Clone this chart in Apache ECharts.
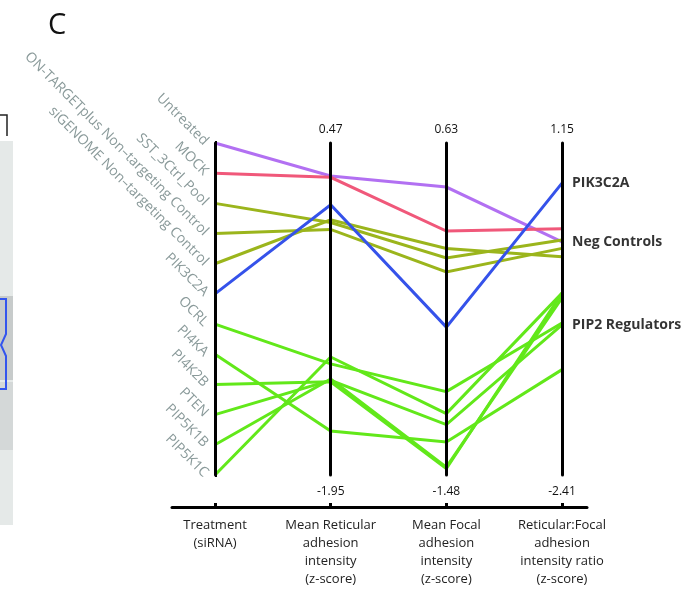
<!DOCTYPE html>
<html>
<head>
<meta charset="utf-8">
<script src="https://cdn.jsdelivr.net/npm/echarts@6/dist/echarts.min.js"></script>
<style>
  html, body { margin: 0; padding: 0; background: #fff; }
  #chart { width: 685px; height: 591px; }
</style>
</head>
<body>
<div id="chart"></div>
<script>
// Treatments (siRNA) on the first axis, top to bottom
const treatments = [
  'Untreated', 'MOCK', 'SST_3Ctrl_Pool',
  'ON-TARGETplus Non\u2013targeting Control', 'siGENOME Non\u2013targeting Control',
  'PIK3C2A', 'OCRL', 'PI4KA', 'PI4K2B', 'PTEN', 'PIP5K1B', 'PIP5K1C'
];
// Group of each treatment (sets the line colour)
const groups = [
  'untreated', 'mock', 'neg', 'neg', 'neg',
  'pik3c2a', 'pip2', 'pip2', 'pip2', 'pip2', 'pip2', 'pip2'
];
// z-scores per measurement
const reticular = [0.23, 0.22, -0.11, -0.16, -0.09, 0.02, -1.14, -1.63, -1.27, -1.26, -1.25, -1.09];
const focal     = [0.35, 0.07, -0.10, -0.19, -0.04, -0.54, -0.95, -1.27, -1.44, -1.16, -1.43, -1.09];
const ratio     = [0.09, 0.23, 0.11, 0.02, -0.07, 0.72, -0.78, -1.28, -0.46, -0.80, -0.51, -0.46];

// Measurement axes: ranges and titles
const axisMin = [-1.95, -1.48, -2.41];
const axisMax = [0.47, 0.63, 1.15];
const axisTitles = [
  'Treatment\n(siRNA)',
  'Mean Reticular\nadhesion\nintensity\n(z-score)',
  'Mean Focal\nadhesion\nintensity\n(z-score)',
  'Reticular:Focal\nadhesion\nintensity ratio\n(z-score)'
];

// Group labels at the right end of the last axis
const groupLabels = ['PIK3C2A', 'Neg Controls', 'PIP2 Regulators'];
const groupLabelAnchor = ['PIK3C2A', 'Untreated', 'PTEN'];

const groupColors = {
  untreated: '#b270f2',
  mock: '#f0587a',
  neg: '#9bb51c',
  pik3c2a: '#3552ea',
  pip2: '#62e81a'
};

const FONT = 'Open Sans';

const lineData = treatments.map((t, i) => ({
  value: [t, reticular[i], focal[i], ratio[i]],
  lineStyle: { color: groupColors[groups[i]] }
}));

const valueAxisCommon = (k) => ({
  dim: k + 1,
  type: 'value',
  min: axisMin[k],
  max: axisMax[k],
  name: axisMax[k].toFixed(2),
  nameLocation: 'end',
  nameGap: 7,
  nameTextStyle: { color: '#111', fontSize: 12, fontFamily: FONT },
  axisLine: { lineStyle: { color: '#000', width: 3 } },
  axisTick: { show: false },
  axisLabel: { show: false, formatter: () => '' },
  splitLine: { show: false }
});

const labelPoints = groupLabels.map((g, j) => {
  const idx = treatments.indexOf(groupLabelAnchor[j]);
  return { value: [3, ratio[idx]], name: g };
});

const chart = echarts.init(document.getElementById('chart'), null, { renderer: 'canvas' });

chart.setOption({
  animation: false,
  backgroundColor: '#fff',
  title: {
    text: 'C', left: 43, top: 6,
    textStyle: { fontFamily: FONT, fontSize: 29, fontWeight: 'normal', color: '#111' }
  },
  parallel: {
    left: 215, right: 123, top: 143, bottom: 116,
    layout: 'horizontal'
  },
  parallelAxis: [
    {
      dim: 0,
      type: 'category',
      data: treatments,
      inverse: true,
      boundaryGap: false,
      axisLine: { lineStyle: { color: '#000', width: 3 } },
      axisTick: { show: true, length: 2, lineStyle: { color: '#000', width: 4 } },
      axisLabel: {
        interval: 0, rotate: -45, margin: -9, align: 'right', verticalAlign: 'middle',
        color: '#8a9a9a', fontSize: 14, fontFamily: FONT
      }
    },
    valueAxisCommon(0),
    valueAxisCommon(1),
    valueAxisCommon(2)
  ],
  grid: [
    { left: 215, right: 123, top: 143, bottom: 116, show: false },
    { left: 172, right: 98, top: 143, bottom: 84, show: false }
  ],
  xAxis: [
    { gridIndex: 0, type: 'value', min: 0, max: 3, show: false },
    {
      gridIndex: 1, type: 'value', min: -0.372, max: 3.216, position: 'bottom',
      axisLine: { show: true, lineStyle: { color: '#000', width: 3 } },
      axisTick: { show: true, inside: true, length: 4, lineStyle: { color: '#000', width: 3 }, customValues: [0, 1, 2, 3] },
      axisLabel: {
        customValues: [0, 1, 2, 3], margin: 9,
        formatter: (v) => axisTitles[Math.round(v)],
        color: '#222', fontSize: 13, fontFamily: FONT, lineHeight: 18, align: 'center'
      },
      splitLine: { show: false }
    },
    {
      gridIndex: 1, type: 'value', min: -0.372, max: 3.216, position: 'bottom',
      axisLine: { show: false }, axisTick: { show: false },
      axisLabel: {
        inside: true, customValues: [1, 2, 3], margin: 9,
        formatter: (v) => axisMin[Math.round(v) - 1].toFixed(2),
        color: '#111', fontSize: 12, fontFamily: FONT
      },
      splitLine: { show: false }
    }
  ],
  yAxis: [
    { gridIndex: 0, type: 'value', min: axisMin[2], max: axisMax[2], show: false },
    { gridIndex: 1, type: 'value', show: false }
  ],
  series: [
    {
      type: 'parallel',
      silent: true,
      smooth: false,
      lineStyle: { width: 3, opacity: 1 },
      inactiveOpacity: 1,
      activeOpacity: 1,
      data: lineData
    },
    {
      type: 'scatter',
      xAxisIndex: 0, yAxisIndex: 0,
      silent: true,
      symbolSize: 0,
      data: labelPoints,
      label: {
        show: true, position: 'right', distance: 10,
        formatter: (p) => p.name,
        color: '#000', fontWeight: 'bold', fontSize: 14, fontFamily: FONT
      }
    }
  ],
  graphic: [
    // edge of the neighbouring panel
    { type: 'rect', shape: { x: 0, y: 141, width: 13, height: 384 }, style: { fill: '#e5e9e8' }, silent: true },
    { type: 'rect', shape: { x: 0, y: 296, width: 13, height: 84 }, style: { fill: '#c7cbcb' }, silent: true },
    { type: 'rect', shape: { x: 0, y: 382, width: 13, height: 68 }, style: { fill: '#d4d8d8' }, silent: true },
    { type: 'polyline', shape: { points: [[0, 115], [7, 115], [7, 136]] }, style: { stroke: '#222', lineWidth: 1.5, fill: null }, silent: true },
    {
      type: 'polyline',
      shape: { points: [[0, 299], [6, 299], [6, 334], [1, 345], [6, 356], [6, 389], [0, 389]] },
      style: { stroke: '#3355ee', lineWidth: 2, fill: null }, silent: true
    }
  ]
});
</script>
</body>
</html>
